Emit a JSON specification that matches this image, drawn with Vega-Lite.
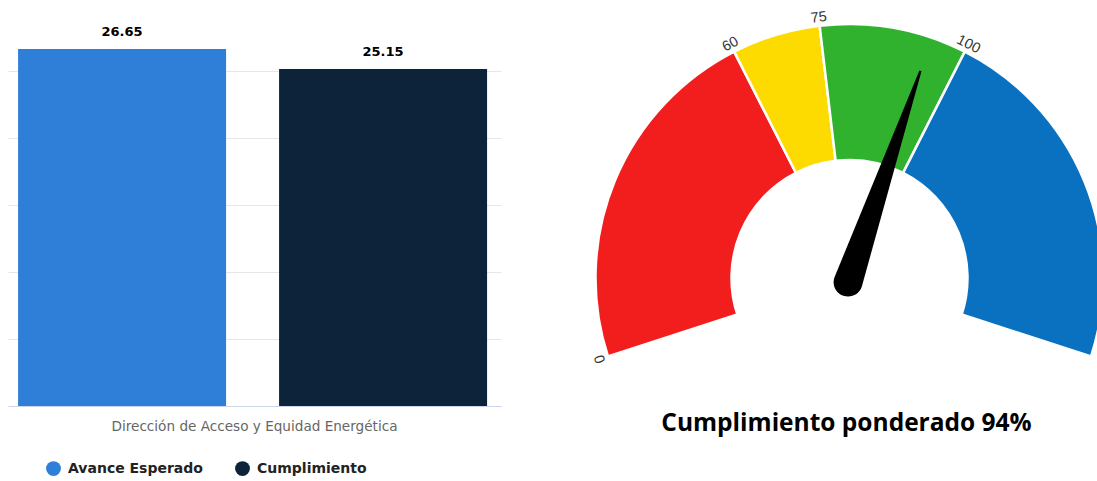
{
  "$schema": "https://vega.github.io/schema/vega-lite/v6.json",
  "padding": {"left": 8, "top": 4, "right": 0, "bottom": 0},
  "background": "white",
  "bounds": "flush",
  "spacing": 95,
  "config": {"view": {"stroke": null}},
  "resolve": {"scale": {"color": "independent", "angle": "independent"}, "legend": {"color": "independent"}},
  "hconcat": [
    {
      "width": 493,
      "height": 402,
      "data": {"values": [
        {"grupo": "Dirección de Acceso y Equidad Energética", "serie": "Avance Esperado", "valor": 26.65},
        {"grupo": "Dirección de Acceso y Equidad Energética", "serie": "Cumplimiento", "valor": 25.15}
      ]},
      "encoding": {
        "x": {"field": "grupo", "type": "nominal", "scale": {"paddingInner": 0, "paddingOuter": 0},
          "axis": {"title": null, "labelAngle": 0, "labelLimit": 0, "ticks": false, "tickSize": 0, "labelPadding": 13, "labelFont": "DejaVu Sans", "labelFontSize": 13.6, "labelColor": "#666666", "domainColor": "#ccd6eb", "domainWidth": 1}},
        "xOffset": {"field": "serie", "type": "nominal", "sort": ["Avance Esperado", "Cumplimiento"], "scale": {"paddingInner": 0.203, "paddingOuter": 0.046, "align": 0.42}},
        "y": {"field": "valor", "type": "quantitative", "scale": {"domain": [0, 30]},
          "axis": {"title": null, "labels": false, "ticks": false, "domain": false, "values": [5, 10, 15, 20, 25], "gridColor": "#e6e6e6"}}
      },
      "layer": [
        {
          "mark": {"type": "bar"},
          "encoding": {
            "color": {"field": "serie", "type": "nominal",
              "scale": {"domain": ["Avance Esperado", "Cumplimiento"], "range": ["#2f7ed8", "#0d233a"]},
              "legend": {"orient": "none", "legendX": 38, "legendY": 457, "direction": "horizontal", "title": null, "symbolType": "circle", "symbolSize": 220, "symbolStrokeWidth": 0, "symbolOpacity": 1, "labelFont": "DejaVu Sans", "labelFontSize": 14, "labelFontWeight": "bold", "labelColor": "#222222", "labelOffset": 7, "columnPadding": 32}}
          }
        },
        {
          "mark": {"type": "text", "dy": -17, "font": "DejaVu Sans", "fontWeight": "bold", "fontSize": 13, "color": "#000000"},
          "encoding": {"text": {"field": "valor", "type": "quantitative", "format": ".2f"}}
        }
      ]
    },
    {
      "width": 501,
      "height": 400,
      "title": {"text": "Cumplimiento ponderado 94%", "orient": "bottom", "offset": 8, "font": "Open Sans", "fontSize": 24.5, "fontWeight": "bold", "color": "#000000", "anchor": "middle"},
      "encoding": {
        "x": {"datum": 0, "type": "quantitative", "scale": {"domain": [-253.5, 247.5]}, "axis": null},
        "y": {"datum": 0, "type": "quantitative", "scale": {"domain": [-126, 274]}, "axis": null}
      },
      "layer": [
        {
          "data": {"values": [
            {"desde": 0, "hasta": 60, "nivel": "Bajo"},
            {"desde": 60, "hasta": 75, "nivel": "Medio"},
            {"desde": 75, "hasta": 100, "nivel": "Alto"},
            {"desde": 100, "hasta": 160, "nivel": "Superior"}
          ]},
          "mark": {"type": "arc", "outerRadius": 254, "innerRadius": 118, "stroke": "white", "strokeWidth": 2.5, "clip": true},
          "encoding": {
            "theta": {"field": "desde", "type": "quantitative", "stack": null, "scale": {"domain": [0, 160], "range": [-1.885, 1.885]}},
            "theta2": {"field": "hasta"},
            "color": {"field": "nivel", "type": "nominal",
              "scale": {"domain": ["Bajo", "Medio", "Alto", "Superior"], "range": ["#f21d1d", "#fddb00", "#31b22e", "#0a70c0"]},
              "legend": null}
          }
        },
        {
          "data": {"values": [{"marca": 0}, {"marca": 60}, {"marca": 75}, {"marca": 100}]},
          "mark": {"type": "text", "radius": 262, "font": "Liberation Sans", "fontSize": 14.5, "color": "#333333", "baseline": "middle", "align": "center"},
          "encoding": {
            "theta": {"field": "marca", "type": "quantitative", "stack": null},
            "angle": {"field": "marca", "type": "quantitative", "scale": {"domain": [0, 160], "range": [-108, 108]}, "legend": null},
            "text": {"field": "marca", "type": "quantitative"}
          }
        },
        {
          "data": {"values": [{"cumplimiento": 94}]},
          "mark": {"type": "point", "shape": "M -0.066 0.02 L -0.005 -1 L 0.005 -1 L 0.066 0.02 A 0.066 0.066 0 0 1 -0.066 0.02 Z", "size": 191844, "filled": true, "color": "#000000", "opacity": 1, "strokeWidth": 0},
          "encoding": {
            "angle": {"field": "cumplimiento", "type": "quantitative"}
          }
        }
      ]
    }
  ]
}
